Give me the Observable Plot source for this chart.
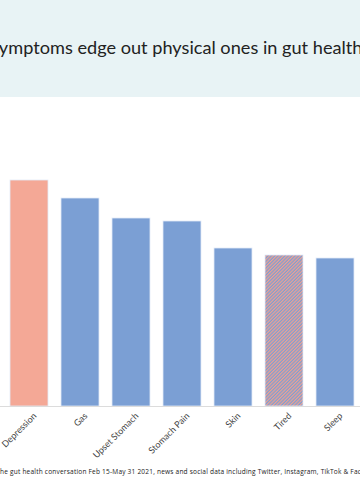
<!DOCTYPE html>
<html>
<head>
<meta charset="utf-8">
<script src="https://cdn.jsdelivr.net/npm/d3@7"></script>
<script src="https://cdn.jsdelivr.net/npm/@observablehq/plot@0.6"></script>
<style>
  html, body { margin: 0; padding: 0; background: #fff; }
  body { width: 360px; height: 500px; overflow: hidden; position: relative; font-family: Lato, "Open Sans", sans-serif; }
  #header { position: absolute; left: 0; top: 0; width: 360px; height: 97px; background: #e8f3f5; overflow: hidden; }
  #chart { position: absolute; left: 0; top: 97px; width: 360px; }
  #caption { position: absolute; left: 0; top: 460px; width: 360px; height: 30px; overflow: hidden; }
</style>
</head>
<body>
<div id="header"></div>
<div id="chart"></div>
<div id="caption"></div>
<script>
// ---- data ----
const categories = ["Depression", "Gas", "Upset Stomach", "Stomach Pain", "Skin", "Tired", "Sleep"];
const values = [226, 208, 188, 185, 158, 151, 148];
const kinds = ["mental", "physical", "physical", "physical", "physical", "both", "physical"];
const titleText = "symptoms edge out physical ones in gut health";
const captionText = "the gut health conversation Feb 15-May 31 2021, news and social data including Twitter, Instagram, TikTok & Facebook";

const data = categories.map((c, i) => ({category: c, value: values[i], kind: kinds[i]}));
const kindColor = {mental: "#f4a896", physical: "#7b9fd4", both: "url(#hatch)"};

// ---- text measuring helper ----
const ctx = document.createElement("canvas").getContext("2d");
function measure(str, size, family, spacing = 0) {
  ctx.font = `${size}px ${family}`;
  return ctx.measureText(str).width + spacing * str.length;
}

// ---- title ----
const tFam = "Lato";
const visibleTitle = titleText.slice(1);
const tSize = 16 * 364 / measure(visibleTitle, 16, tFam);
const tX = -measure(titleText.slice(0, 1), tSize, tFam) - 1;
document.getElementById("header").innerHTML =
  `<svg width="360" height="97"><text x="${tX}" y="54" font-family="${tFam}" font-size="${tSize}" fill="#222">${titleText}</text></svg>`;

// ---- caption ----
const cFam = "'Liberation Sans Narrow', 'Open Sans', sans-serif";
const cSpacing = 0.2;
const visibleCap = "he gut health conversation Feb 15-May 31 2021, news and social data including Twitter, Instagram, TikTok & Face";
const cSize = 8 * 362 / measure(visibleCap, 8, cFam, cSpacing);
const cX = -measure("t", cSize, cFam, cSpacing);
document.getElementById("caption").innerHTML =
  `<svg width="360" height="30"><text x="${cX}" y="13.5" font-family="${cFam.replace(/"/g, "'")}" font-size="${cSize}" letter-spacing="${cSpacing}" fill="#222">${captionText}</text></svg>`;

// ---- chart ----
const chart = Plot.plot({
  width: 360,
  height: 362,
  marginLeft: 0,
  marginRight: 0,
  marginTop: 83,
  marginBottom: 53,
  style: {fontFamily: "Lato, sans-serif", background: "transparent", overflow: "visible"},
  x: {domain: categories, range: [3.5, 360.5], paddingInner: 0.25, paddingOuter: 0.125, label: null},
  y: {domain: [0, 226], range: [309, 83], axis: null},
  marks: [
    Plot.barY(data.filter(d => d.kind !== "both"), {x: "category", y: "value", fill: d => kindColor[d.kind], stroke: "#e3ebf7", strokeWidth: 0.8}),
    Plot.barY(data.filter(d => d.kind === "both"), {x: "category", y: "value", fill: kindColor.both, stroke: "#e3ebf7", strokeWidth: 0.8}),
    Plot.ruleY([0], {stroke: "#dcdcdc", strokeWidth: 1}),
    Plot.axisX({ticks: [], tickSize: 4, stroke: "#d6d6d6", label: null}),
    Plot.axisX({tickRotate: -45, tickSize: 0, tickPadding: 6, dx: 5.5, dy: 2, fill: "#444", fontSize: 9, label: null})
  ]
});
// hatch pattern
const svg = d3.select(chart);
const defs = svg.insert("defs", ":first-child");
const pat = defs.append("pattern").attr("id", "hatch").attr("patternUnits", "userSpaceOnUse")
  .attr("width", 2.4).attr("height", 2.4).attr("patternTransform", "rotate(45)");
pat.append("rect").attr("width", 2.4).attr("height", 2.4).attr("fill", "#7b9fd4");
pat.append("rect").attr("width", 1.2).attr("height", 2.4).attr("fill", "#f0a090");
document.getElementById("chart").appendChild(chart);
</script>
</body>
</html>
